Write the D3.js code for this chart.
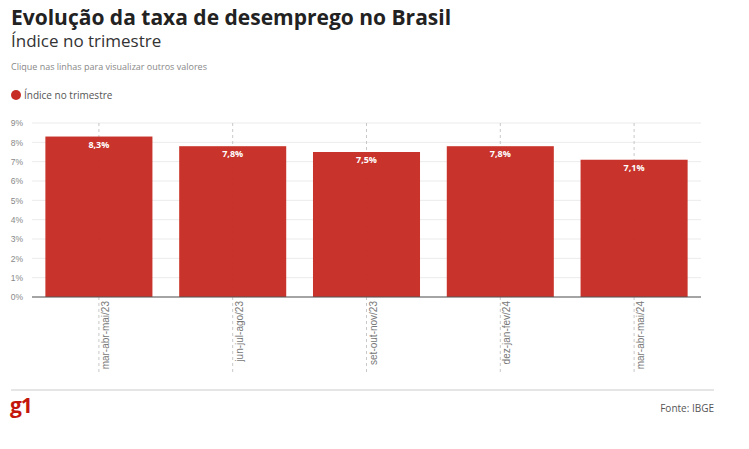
<!DOCTYPE html>
<html>
<head>
<meta charset="UTF-8">
<script src="https://d3js.org/d3.v7.min.js"></script>
<style>
	body { margin:0; background:#fff; font-family:"Open Sans", sans-serif; }
	.Grid line { stroke:#ebebeb; }
	.YAxis text { fill:#888; font-size:8.5px; }
	.XAxis text { fill:#777; font-size:10px; }
</style>
</head>
<body>
<svg class="Chart"></svg>
<script>
// dados
var Categories = ["mar-abr-mai/23", "jun-jul-ago/23", "set-out-nov/23", "dez-jan-fev/24", "mar-abr-mai/24"];
var Values = [8.3, 7.8, 7.5, 7.8, 7.1];
var YTicks = [0, 1, 2, 3, 4, 5, 6, 7, 8, 9];

var Width = 749, Height = 449;
var Plot = {"Left":32, "Right":701, "Top":123, "Bottom":297};
var Red = "#c62d24";

var Svg = d3.select(".Chart").attr("width", Width).attr("height", Height);

Svg.append("text").attr("x", 11).attr("y", 25)
	.style("font-size", "21px").style("font-weight", "bold").style("fill", "#222")
	.text("Evolução da taxa de desemprego no Brasil");
Svg.append("text").attr("x", 11).attr("y", 47)
	.style("font-size", "17px").style("fill", "#333")
	.text("Índice no trimestre");
Svg.append("text").attr("x", 11).attr("y", 70)
	.style("font-size", "9px").style("fill", "#888")
	.text("Clique nas linhas para visualizar outros valores");

// legenda
Svg.append("circle").attr("cx", 16).attr("cy", 95).attr("r", 5).style("fill", Red);
Svg.append("text").attr("x", 24).attr("y", 99)
	.style("font-size", "10px").style("fill", "#555")
	.text("Índice no trimestre");

var XScale = d3.scaleBand().domain(Categories)
	.range([Plot.Left, Plot.Right]).paddingInner(0.2).paddingOuter(0.1);
var YScale = d3.scaleLinear().domain([0, 9]).range([Plot.Bottom, Plot.Top]);

// grade horizontal
Svg.append("g").attr("class", "Grid")
	.selectAll("line").data(YTicks).enter().append("line")
	.attr("x1", Plot.Left).attr("x2", Plot.Right)
	.attr("y1", function(d){ return YScale(d); })
	.attr("y2", function(d){ return YScale(d); });

var YAxis = d3.axisLeft(YScale).tickValues(YTicks)
	.tickFormat(function(d){ return d + "%"; }).tickSize(0).tickPadding(9);
Svg.append("g").attr("class", "YAxis")
	.attr("transform", "translate(" + Plot.Left + ",0)")
	.call(YAxis)
	.call(function(g){ g.select(".domain").remove(); });

// linhas tracejadas verticais
Svg.append("g").selectAll("line").data(Categories).enter().append("line")
	.attr("x1", function(d){ return XScale(d) + XScale.bandwidth()/2; })
	.attr("x2", function(d){ return XScale(d) + XScale.bandwidth()/2; })
	.attr("y1", Plot.Top).attr("y2", 372)
	.style("stroke", "#c8c8c8").style("stroke-dasharray", "3,3");

// barras
Svg.append("g").selectAll("rect").data(Values).enter().append("rect")
	.attr("x", function(d, i){ return XScale(Categories[i]); })
	.attr("y", function(d){ return YScale(d); })
	.attr("width", XScale.bandwidth())
	.attr("height", function(d){ return Plot.Bottom - YScale(d); })
	.style("fill", Red).style("opacity", 0.97);

Svg.append("g").selectAll("text").data(Values).enter().append("text")
	.attr("x", function(d, i){ return XScale(Categories[i]) + XScale.bandwidth()/2; })
	.attr("y", function(d){ return YScale(d) + 11; })
	.attr("text-anchor", "middle")
	.style("font-size", "9px").style("font-weight", "bold").style("fill", "#fff")
	.text(function(d){ return d.toFixed(1).replace(".", ",") + "%"; });

// eixo x
var XAxis = d3.axisBottom(XScale).tickSize(0).tickPadding(0);
Svg.append("g").attr("class", "XAxis")
	.attr("transform", "translate(0," + Plot.Bottom + ")")
	.call(XAxis)
	.call(function(g){ g.select(".domain").remove(); })
	.selectAll("text")
	.attr("transform", "rotate(-90)")
	.attr("x", -4).attr("y", 10).attr("dy", 0)
	.style("text-anchor", "end");

Svg.append("line").attr("x1", Plot.Left).attr("x2", Plot.Right)
	.attr("y1", Plot.Bottom).attr("y2", Plot.Bottom)
	.style("stroke", "#555").style("stroke-width", 1.2);

// rodapé
Svg.append("line").attr("x1", 11).attr("x2", 714).attr("y1", 390).attr("y2", 390)
	.style("stroke", "#ccc");
Svg.append("text").attr("x", 10).attr("y", 413)
	.style("font-size", "21px").style("font-weight", "bold").style("fill", "#c4170c")
	.style("letter-spacing", "-1px")
	.text("g1");
Svg.append("text").attr("x", 714).attr("y", 412).attr("text-anchor", "end")
	.style("font-size", "10px").style("fill", "#555")
	.text("Fonte: IBGE");
</script>
</body>
</html>
